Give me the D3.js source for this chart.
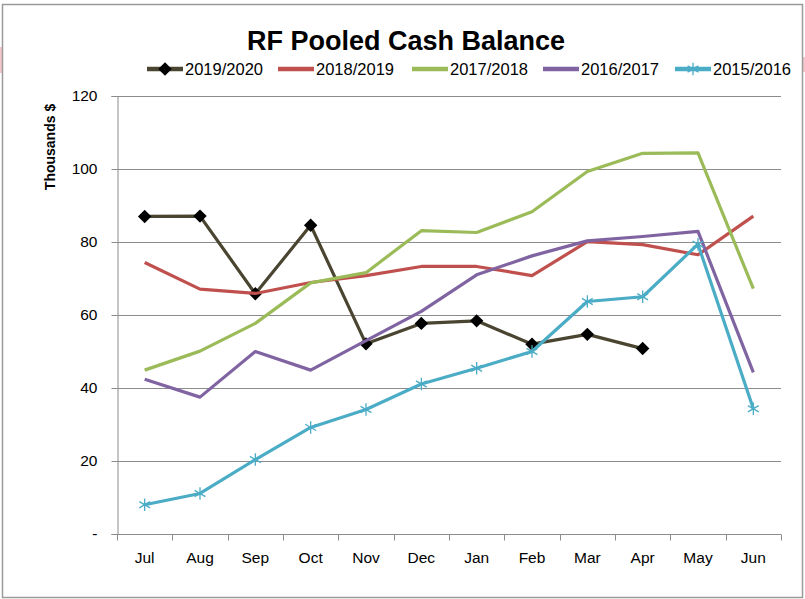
<!DOCTYPE html>
<html>
<head>
<meta charset="utf-8">
<script src="https://cdn.jsdelivr.net/npm/d3@7"></script>
<style>
  body { margin: 0; background: #fff; }
  svg { display: block; font-family: "Liberation Sans", Arial, sans-serif; }
</style>
</head>
<body>
<div id="chart"></div>
<script>
// months on the x axis
const months = ['Jul', 'Aug', 'Sep', 'Oct', 'Nov', 'Dec', 'Jan', 'Feb', 'Mar', 'Apr', 'May', 'Jun'];
const yTicks = [0, 20, 40, 60, 80, 100, 120];

// series values (thousands $)
const fy2019 = [87.0, 87.1, 65.8, 84.6, 52.1, 57.7, 58.4, 52.0, 54.7, 50.8];
const fy2018 = [74.4, 67.1, 65.9, 68.9, 70.8, 73.3, 73.3, 70.8, 80.1, 79.3, 76.5, 87.1];
const fy2017 = [44.9, 50.1, 57.7, 68.8, 71.6, 83.1, 82.6, 88.3, 99.3, 104.3, 104.4, 67.2];
const fy2016 = [42.4, 37.5, 50.0, 44.9, 53.0, 61.0, 71.0, 76.2, 80.3, 81.5, 82.9, 44.3];
const fy2015 = [8.0, 11.1, 20.4, 29.2, 34.1, 41.1, 45.4, 50.0, 63.7, 65.0, 79.4, 34.3];

const seriesNames = ['2019/2020', '2018/2019', '2017/2018', '2016/2017', '2015/2016'];
const seriesColors = ['#4a4530', '#c0504d', '#9bbb59', '#8064a2', '#4bacc6'];
const seriesMarkers = ['diamond', 'none', 'none', 'none', 'star'];

const width = 805;
const height = 599;
const margin = { left: 117, right: 24, top: 96, bottom: 65 };

const series = [fy2019, fy2018, fy2017, fy2016, fy2015].map((values, i) => ({
  name: seriesNames[i],
  color: seriesColors[i],
  marker: seriesMarkers[i],
  values: values.map((v, j) => ({ month: months[j], value: v }))
}));

const svg = d3.select('#chart')
  .append('svg')
  .attr('width', width)
  .attr('height', height);

// little pink bits peeking out at the sides
svg.append('rect').attr('x', 0).attr('y', 47).attr('width', 2).attr('height', 26).attr('fill', '#f3c6cb');
svg.append('rect').attr('x', 803).attr('y', 57).attr('width', 2).attr('height', 15).attr('fill', '#f3c6cb');

// chart border
svg.append('rect')
  .attr('x', 2.5)
  .attr('y', 4.5)
  .attr('width', 800)
  .attr('height', 593)
  .attr('fill', '#fff')
  .attr('stroke', '#9a9a9a')
  .attr('stroke-width', 1.5);

const x = d3.scaleBand()
  .domain(months)
  .range([margin.left, width - margin.right]);

const y = d3.scaleLinear()
  .domain([0, 120])
  .range([height - margin.bottom, margin.top]);

// gridlines
svg.append('g')
  .selectAll('line')
  .data(yTicks.filter(d => d > 0))
  .enter().append('line')
  .attr('x1', margin.left)
  .attr('x2', width - margin.right)
  .attr('y1', d => Math.round(y(d)) + 0.5)
  .attr('y2', d => Math.round(y(d)) + 0.5)
  .attr('stroke', '#8c8c8c')
  .attr('stroke-width', 1);

// y axis
const yAxis = svg.append('g')
  .attr('transform', `translate(${margin.left + 0.5},0)`)
  .call(d3.axisLeft(y)
    .tickValues(yTicks)
    .tickSize(6)
    .tickPadding(14)
    .tickFormat(d => d === 0 ? '-' : d));
yAxis.select('.domain').attr('stroke', '#8c8c8c');
yAxis.selectAll('.tick line').attr('stroke', '#8c8c8c');
yAxis.selectAll('.tick text')
  .attr('font-size', 15.5)
  .attr('fill', '#000')
  .attr('font-family', 'Liberation Sans, Arial, sans-serif');

// x axis with ticks on the band edges
const xAxisG = svg.append('g')
  .attr('transform', `translate(0,${Math.round(y(0)) + 0.5})`);
xAxisG.append('line')
  .attr('x1', margin.left)
  .attr('x2', width - margin.right)
  .attr('stroke', '#8c8c8c');
xAxisG.selectAll('line.tk')
  .data(months.concat(['end']))
  .enter().append('line')
  .attr('class', 'tk')
  .attr('x1', d => d === 'end' ? Math.round(x.range()[1]) + 0.5 : Math.round(x(d)) + 0.5)
  .attr('x2', d => d === 'end' ? Math.round(x.range()[1]) + 0.5 : Math.round(x(d)) + 0.5)
  .attr('y1', 0)
  .attr('y2', 6)
  .attr('stroke', '#8c8c8c');
xAxisG.selectAll('text')
  .data(months)
  .enter().append('text')
  .attr('x', d => x(d) + x.bandwidth() / 2)
  .attr('y', 28)
  .attr('text-anchor', 'middle')
  .attr('font-size', 15.5)
  .text(d => d);

// y axis title
svg.append('text')
  .attr('transform', 'translate(55,147) rotate(-90)')
  .attr('text-anchor', 'middle')
  .attr('font-size', 14)
  .attr('font-weight', 'bold')
  .text('Thousands $');

// title
svg.append('text')
  .attr('x', 406)
  .attr('y', 50)
  .attr('text-anchor', 'middle')
  .attr('font-size', 27)
  .attr('font-weight', 'bold')
  .text('RF Pooled Cash Balance');

const line = d3.line()
  .x(d => x(d.month) + x.bandwidth() / 2)
  .y(d => y(d.value));

const diamond = d3.symbol().type(d3.symbolSquare).size(90);
const star = d3.symbol().type(d3.symbolAsterisk).size(110);

function drawMarker(sel, s, px, py) {
  if (s.marker === 'diamond') {
    sel.append('path')
      .attr('d', diamond())
      .attr('transform', `translate(${px},${py}) rotate(45)`)
      .attr('fill', '#000');
  } else if (s.marker === 'star') {
    sel.append('path')
      .attr('d', star())
      .attr('transform', `translate(${px},${py})`)
      .attr('fill', 'none')
      .attr('stroke', s.color)
      .attr('stroke-width', 1.3);
  }
}

const plot = svg.append('g');
series.forEach(s => {
  const g = plot.append('g');
  g.append('path')
    .datum(s.values)
    .attr('d', line)
    .attr('fill', 'none')
    .attr('stroke', s.color)
    .attr('stroke-width', 3.2)
    .attr('stroke-linejoin', 'round');
  s.values.forEach(d => {
    drawMarker(g, s, x(d.month) + x.bandwidth() / 2, y(d.value));
  });
});

// legend
const legendX = [147, 278, 412, 543, 675];
const legend = svg.append('g');
series.forEach((s, i) => {
  const g = legend.append('g').attr('transform', `translate(${legendX[i]},69)`);
  g.append('line')
    .attr('x1', 0)
    .attr('x2', 36)
    .attr('stroke', s.color)
    .attr('stroke-width', 4.5);
  drawMarker(g, s, 18, 0);
  g.append('text')
    .attr('x', 38)
    .attr('y', 6)
    .attr('font-size', 16.5)
    .text(s.name);
});
</script>
</body>
</html>
